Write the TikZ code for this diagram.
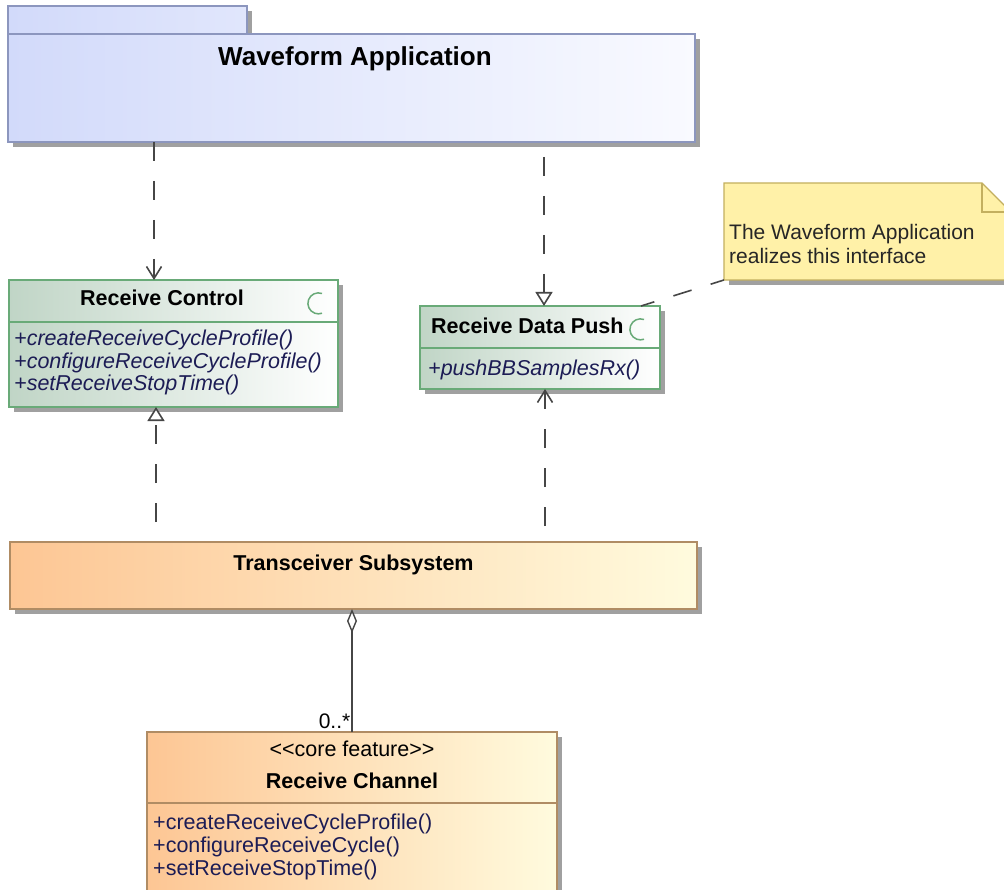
\documentclass[tikz,border=0pt]{standalone}
\usepackage{fontspec}
\setmainfont{Liberation Sans}
\usetikzlibrary{arrows.meta,calc,shadows}
\definecolor{pkgL}{RGB}{210,218,250}
\definecolor{pkgR}{RGB}{249,250,255}
\definecolor{pkgB}{RGB}{140,150,190}
\definecolor{ifL}{RGB}{192,213,198}
\definecolor{ifR}{RGB}{255,255,255}
\definecolor{ifB}{RGB}{105,170,120}
\definecolor{orL}{RGB}{253,198,148}
\definecolor{orR}{RGB}{255,251,222}
\definecolor{orB}{RGB}{176,140,100}
\definecolor{noteF}{RGB}{255,241,168}
\definecolor{noteB}{RGB}{195,175,95}
\definecolor{opC}{RGB}{28,28,85}
\definecolor{lineC}{RGB}{70,70,70}
\definecolor{shadowC}{RGB}{160,160,160}
\tikzset{
  boxbase/.style={draw, line width=1.2pt, inner sep=0pt, outer sep=0pt, anchor=north west,
    drop shadow={shadow xshift=5pt, shadow yshift=-5pt, fill=shadowC, opacity=1}},
  pkgbox/.style={boxbase, draw=pkgB, left color=pkgL, right color=pkgR},
  ifbox/.style={boxbase, draw=ifB, left color=ifL, right color=ifR},
  orbox/.style={boxbase, draw=orB, left color=orL, right color=orR},
  bigtitle/.style={font=\fontsize{26}{28}\selectfont\bfseries, anchor=base, inner sep=0pt},
  title/.style={font=\fontsize{21.5}{23}\selectfont\bfseries, anchor=base, inner sep=0pt},
  optext/.style={font=\fontsize{21.5}{23}\selectfont\itshape, text=opC, anchor=base west, inner sep=0pt},
  opplain/.style={font=\fontsize{21.5}{23}\selectfont, text=opC, anchor=base west, inner sep=0pt},
  plaintext/.style={font=\fontsize{21.5}{23}\selectfont, anchor=base, inner sep=0pt},
  notetext/.style={font=\fontsize{21}{23}\selectfont, text=black!85, anchor=base west, inner sep=0pt},
  conn/.style={draw=lineC, line width=1.6pt},
  dep/.style={conn, dash pattern=on 19pt off 20pt},
  openhead/.style={-{Straight Barb[length=12pt,width=15pt]}},
  realhead/.style={-{Triangle[open,length=14pt,width=17pt,fill=white]}},
  iconarc/.style={draw=ifB, line width=1.5pt}
}
\begin{document}
\begin{tikzpicture}[x=1pt,y=-1pt]
\useasboundingbox (0,0) rectangle (1004,890);
\clip (0,0) rectangle (1004,890);
\fill[white] (0,0) rectangle (1004,890);

% package
\node[pkgbox, minimum width=239pt, minimum height=29pt, left color=pkgL, right color=pkgL!62!pkgR] (pkgtab) at (8,6) {};
\node[pkgbox, minimum width=687pt, minimum height=108pt] (pkg) at (8,34) {};
\node[bigtitle] (pkgtitle) at (355,66) {Waveform Application};

% Receive Control
\node[ifbox, minimum width=329pt, minimum height=127pt] (rc) at (9,280) {};
\draw[ifB, line width=1.2pt] (rc.west |- 0,322) -- (rc.east |- 0,322);
\node[title] (rctitle) at (162,306) {Receive Control};
\draw[iconarc] (322,293.5) arc[start angle=-70, end angle=-290, radius=10.5];
\node[optext] (rcop1) at (14,346) {+createReceiveCycleProfile()};
\node[optext] (rcop2) at (14,369) {+configureReceiveCycleProfile()};
\node[optext] (rcop3) at (14,391) {+setReceiveStopTime()};

% Receive Data Push
\node[ifbox, minimum width=240pt, minimum height=83pt] (rdp) at (420,306) {};
\draw[ifB, line width=1.2pt] (rdp.west |- 0,348) -- (rdp.east |- 0,348);
\node[title, anchor=base west] (rdptitle) at (431,334) {Receive Data Push};
\draw[iconarc] (644,319.5) arc[start angle=-70, end angle=-290, radius=10.5];
\node[optext] (rdpop1) at (428,376) {+pushBBSamplesRx()};

% Note
\node[inner sep=0pt, outer sep=0pt, minimum width=287pt, minimum height=97pt, anchor=north west] (note) at (724,183) {};
\fill[shadowC] ($(note.north west)+(5,5)$) -- ($(note.north east)+(-24,5)$) -- ($(note.north east)+(5,34)$) -- ($(note.south east)+(5,5)$) -- ($(note.south west)+(5,5)$) -- cycle;
\draw[noteB, fill=noteF, line width=1.2pt] (note.north west) -- ($(note.north east)+(-29,0)$) -- ($(note.north east)+(0,29)$) -- (note.south east) -- (note.south west) -- cycle;
\draw[noteB, line width=1.2pt] ($(note.north east)+(-29,0)$) |- ($(note.north east)+(0,29)$);
\node[notetext] (nt1) at (729,240) {The Waveform Application};
\node[notetext] (nt2) at (729,264) {realizes this interface};

% Transceiver Subsystem
\node[orbox, minimum width=687pt, minimum height=67pt] (ts) at (10,542) {};
\node[title] (tstitle) at (353.5,570) {Transceiver Subsystem};

% Receive Channel
\node[orbox, minimum width=410pt, minimum height=180pt] (rch) at (147,732) {};
\node[plaintext] (rchst) at (352,756) {<{}<core feature>{}>};
\node[title] (rchtitle) at (352,788) {Receive Channel};
\draw[orB, line width=1.2pt] (rch.west |- 0,803) -- (rch.east |- 0,803);
\node[opplain] (rchop1) at (153,829) {+createReceiveCycleProfile()};
\node[opplain] (rchop2) at (153,852) {+configureReceiveCycle()};
\node[opplain] (rchop3) at (153,875) {+setReceiveStopTime()};

% connector x positions
\coordinate (xa) at (154,0);
\coordinate (xb) at (544,0);
\coordinate (xc) at (156,0);
\coordinate (xd) at (545,0);
\coordinate (xe) at (352,0);
\coordinate (xf) at (641,0);

\draw[dep, openhead] (pkg.south -| xa) -- (rc.north -| xa);
\draw[dep, realhead, dash phase=24pt] (pkg.south -| xb) -- (rdp.north -| xb);
\draw[dep, realhead, dash phase=19pt] (ts.north -| xc) -- (rc.south -| xc);
\draw[dep, openhead, dash phase=23pt] (ts.north -| xd) -- (rdp.south -| xd);
\draw[dep, dash phase=5pt] (note.south west) -- (rdp.north -| xf);
\draw[conn, line width=1.4pt, {Diamond[open,length=24pt,width=10pt,fill=white]}-] (ts.south -| xe) -- (rch.north -| xe)
  node[pos=1, anchor=base east, inner sep=0pt, font=\fontsize{21}{23}\selectfont, xshift=-1pt, yshift=4pt] (mult) {0..*};
\end{tikzpicture}
\end{document}
